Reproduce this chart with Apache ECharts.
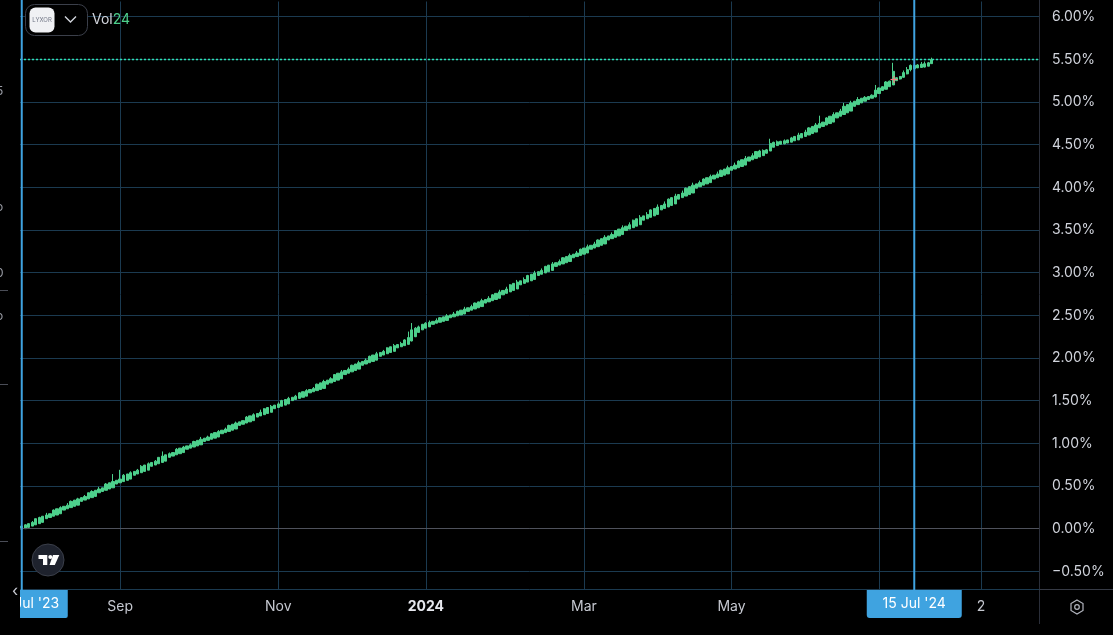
<!DOCTYPE html>
<html><head><meta charset="utf-8">
<script src="https://cdn.jsdelivr.net/npm/echarts@6/dist/echarts.min.js"></script>
<style>html,body{margin:0;padding:0;background:#000;overflow:hidden}#c{width:1113px;height:635px}</style>
</head><body><div id="c"></div>
<script>
// ---------- data ----------
const startDate = [2023, 6, 25];          // first bar: 25 Jul 2023 (weekday bars)
const barSlots = 290;                      // bar slots on the time scale, incl. empty future
const xTickIdx = [28, 73, 115, 160, 202, 244, 273];
const xTickLabels = ['Sep', 'Nov', '2024', 'Mar', 'May', 'Jul', '2'];
const crosshairIdx = 254;
const crosshairLabel = "15 Jul '24";
const firstLabel = "Jul '23";
const yMin = -0.707, yMax = 6.196;
// [open, close, low, high] in thousandths of a percent
const ohlc = [
[-5,30,-10,40],[0,45,0,52],[15,59,15,59],[30,74,30,90],[45,117,45,117],[59,131,59,140],[74,146,74,146],[117,160,117,185],[131,175,131,175],[146,218,146,225],
[160,233,160,233],[175,247,175,262],[218,262,218,262],[233,276,233,300],[247,320,247,330],[262,335,262,335],[276,349,276,362],[320,364,320,364],[335,378,335,395],[349,421,349,421],
[364,436,364,450],[378,450,378,450],[421,465,421,490],[436,479,436,479],[450,523,450,535],[465,538,465,538],[479,552,479,640],[523,567,523,567],[538,581,538,690],[552,626,552,640],
[567,641,567,641],[581,656,581,672],[626,671,626,671],[641,686,641,700],[656,731,656,745],[671,746,671,746],[686,761,686,776],[731,776,731,776],[746,791,746,805],[761,836,761,836],
[776,851,776,905],[791,866,791,866],[836,879,836,893],[851,892,851,892],[866,931,866,945],[879,944,879,944],[892,957,892,970],[931,970,931,970],[944,983,944,1000],[957,1022,957,1030],
[970,1035,970,1035],[983,1048,983,1075],[1022,1061,1022,1061],[1035,1074,1035,1090],[1048,1113,1048,1120],[1061,1126,1061,1126],[1074,1140,1074,1155],[1113,1154,1113,1154],[1126,1168,1126,1185],[1140,1210,1140,1218],
[1154,1224,1154,1224],[1168,1238,1168,1255],[1210,1252,1210,1252],[1224,1266,1224,1266],[1238,1308,1238,1320],[1252,1322,1252,1322],[1266,1336,1266,1352],[1308,1350,1308,1350],[1322,1364,1322,1395],[1336,1406,1336,1412],
[1350,1420,1350,1420],[1364,1434,1364,1450],[1406,1448,1406,1448],[1420,1462,1420,1480],[1434,1501,1434,1510],[1448,1514,1448,1514],[1462,1527,1462,1545],[1501,1540,1501,1540],[1514,1553,1514,1568],[1527,1592,1527,1600],
[1540,1605,1540,1605],[1553,1618,1553,1635],[1592,1631,1592,1631],[1605,1644,1605,1660],[1618,1693,1618,1700],[1631,1709,1631,1709],[1644,1725,1644,1745],[1693,1741,1693,1741],[1709,1757,1709,1775],[1725,1806,1725,1812],
[1741,1822,1741,1822],[1757,1838,1757,1860],[1806,1854,1806,1854],[1822,1870,1822,1890],[1838,1915,1838,1922],[1854,1930,1854,1930],[1870,1945,1870,1968],[1915,1960,1915,1960],[1930,1975,1930,1995],[1945,2020,1945,2028],
[1960,2035,1960,2035],[1975,2050,1975,2072],[2020,2065,2020,2065],[2035,2078,2035,2095],[2050,2119,2050,2125],[2065,2132,2065,2132],[2078,2145,2078,2165],[2119,2158,2119,2158],[2132,2171,2132,2190],[2145,2212,2145,2220],
[2160,2240,2155,2310],[2200,2330,2195,2410],[2250,2350,2245,2362],[2300,2365,2300,2380],[2330,2395,2330,2400],[2350,2408,2350,2420],[2365,2419,2365,2440],[2395,2430,2395,2430],[2408,2441,2408,2465],[2419,2472,2419,2478],
[2430,2483,2430,2483],[2441,2494,2441,2515],[2472,2505,2472,2505],[2483,2516,2483,2540],[2494,2547,2494,2555],[2505,2561,2505,2561],[2516,2575,2516,2600],[2547,2589,2547,2589],[2561,2603,2561,2625],[2575,2644,2575,2650],
[2589,2658,2589,2658],[2603,2672,2603,2695],[2644,2686,2644,2686],[2658,2700,2658,2725],[2672,2741,2672,2748],[2686,2758,2686,2758],[2700,2775,2700,2800],[2741,2792,2741,2792],[2758,2809,2758,2835],[2775,2858,2775,2865],
[2792,2875,2790,2875],[2809,2890,2809,2915],[2858,2905,2858,2905],[2875,2920,2875,2945],[2890,2967,2890,2975],[2905,2982,2905,2982],[2920,2997,2920,3022],[2967,3012,2967,3012],[2982,3027,2982,3050],[2997,3074,2997,3080],
[3012,3089,3012,3089],[3027,3103,3027,3125],[3074,3117,3074,3117],[3089,3131,3089,3155],[3103,3175,3103,3182],[3117,3189,3117,3189],[3131,3203,3131,3225],[3175,3217,3175,3217],[3189,3231,3189,3255],[3203,3275,3203,3282],
[3217,3289,3217,3289],[3231,3305,3231,3330],[3275,3321,3275,3321],[3289,3337,3289,3362],[3305,3383,3305,3390],[3321,3399,3321,3399],[3337,3415,3337,3440],[3383,3431,3383,3431],[3399,3447,3399,3472],[3415,3494,3415,3500],
[3431,3511,3431,3511],[3447,3528,3447,3555],[3494,3545,3490,3545],[3511,3562,3511,3590],[3528,3615,3528,3622],[3545,3632,3545,3632],[3562,3649,3562,3675],[3615,3666,3615,3666],[3632,3683,3632,3710],[3649,3736,3649,3742],
[3666,3753,3666,3753],[3683,3770,3683,3800],[3736,3788,3736,3788],[3753,3806,3753,3835],[3770,3862,3770,3870],[3788,3880,3788,3880],[3806,3898,3806,3925],[3862,3916,3862,3916],[3880,3934,3880,3962],[3898,3990,3898,3998],
[3916,4008,3916,4008],[3934,4026,3934,4055],[3990,4041,3990,4041],[4008,4056,4008,4080],[4026,4098,4026,4105],[4041,4113,4041,4113],[4056,4128,4056,4150],[4098,4143,4098,4143],[4113,4158,4113,4185],[4128,4200,4128,4208],
[4143,4215,4143,4215],[4158,4230,4158,4255],[4200,4245,4200,4245],[4215,4261,4215,4290],[4230,4308,4230,4315],[4245,4324,4245,4324],[4261,4340,4261,4368],[4308,4356,4308,4356],[4324,4372,4320,4400],[4340,4419,4340,4425],
[4356,4426,4356,4440],[4372,4433,4372,4445],[4400,4440,4395,4450],[4426,4515,4426,4570],[4470,4528,4470,4535],[4490,4534,4485,4550],[4505,4540,4505,4545],[4510,4546,4505,4562],[4520,4556,4520,4556],[4530,4580,4530,4592],
[4546,4597,4546,4597],[4556,4614,4556,4640],[4580,4631,4580,4631],[4597,4648,4597,4675],[4614,4697,4614,4705],[4631,4714,4631,4714],[4648,4731,4648,4755],[4697,4748,4697,4840],[4714,4765,4714,4765],[4731,4814,4731,4822],
[4748,4834,4748,4834],[4765,4854,4765,4880],[4814,4874,4814,4874],[4834,4894,4834,4920],[4854,4950,4854,4990],[4874,4970,4874,4970],[4894,4990,4894,5015],[4950,5010,4950,5010],[4970,5030,4970,5058],[4990,5045,4990,5045],
[5010,5055,5010,5070],[5030,5065,5025,5065],[5045,5080,5045,5090],[5060,5140,5055,5200],[5100,5165,5100,5170],[5135,5180,5135,5185],[5150,5235,5150,5245],[5180,5245,5180,5250],[5200,5360,5200,5460],[5250,5285,5250,5290],
[5270,5300,5265,5305],[5290,5345,5285,5370],[5330,5380,5325,5410],[5380,5430,5360,5440],[5390,5430,5385,5440],[5400,5435,5400,5445],[5405,5445,5405,5470],[5410,5450,5405,5475],[5420,5460,5420,5470],[5450,5500,5450,5520]
];

// ---------- build ----------
const categories = [];
(function(){
  let t = Date.UTC(startDate[0], startDate[1], startDate[2]);
  while (categories.length < barSlots) {
    const d = new Date(t); const wd = d.getUTCDay();
    if (wd !== 0 && wd !== 6) categories.push(d.toISOString().slice(0, 10));
    t += 86400000;
  }
})();
const candleData = ohlc.map(r => [r[0] / 1000, r[1] / 1000, r[2] / 1000, r[3] / 1000]);
const lastClose = candleData[candleData.length - 1][1];
const tickMap = {}; xTickIdx.forEach((i, k) => tickMap[i] = xTickLabels[k]);

const GREEN = '#4dd08c', GRID = '#1b3a50', BLUE = '#3fa3e0', TXT = '#d1d4dc';
const FONT = 'Inter, "Noto Sans", sans-serif';

const chart = echarts.init(document.getElementById('c'), null, {renderer: 'canvas'});
const option = {
  backgroundColor: '#000',
  animation: false,
  grid: {left: 20, right: 74, top: 0, bottom: 46, containLabel: false},
  xAxis: {
    type: 'category', data: categories, boundaryGap: true,
    axisLine: {show: true, lineStyle: {color: '#363a45', width: 1}},
    axisTick: {show: false},
    axisLabel: {
      interval: (i) => tickMap[i] !== undefined,
      formatter: (v, i) => tickMap[i] === '2024' ? '{b|2024}' : tickMap[i],
      color: '#c5c8d0', fontSize: 14, fontFamily: FONT, margin: 11,
      rich: {b: {fontWeight: 'bold', color: '#e6e8ee', fontSize: 14, fontFamily: FONT}}
    },
    splitLine: {show: true, interval: (i) => tickMap[i] !== undefined, alignWithLabel: true, lineStyle: {color: GRID, width: 1}}
  },
  yAxis: {
    type: 'value', position: 'right', min: yMin, max: yMax, splitNumber: 14, scale: true,
    axisLine: {show: true, lineStyle: {color: '#2a2e39'}},
    axisTick: {show: false},
    axisLabel: {
      color: TXT, fontSize: 14, fontFamily: FONT, margin: 13, align: 'left',
      showMinLabel: false, showMaxLabel: false,
      formatter: v => (v < 0 ? '\u2212' + Math.abs(v).toFixed(2) : v.toFixed(2)) + '%'
    },
    splitLine: {show: true, lineStyle: {color: GRID, width: 1}}
  },
  series: [{
    type: 'candlestick', data: candleData, barWidth: '80%',
    itemStyle: {color: GREEN, color0: GREEN, borderColor: GREEN, borderColor0: GREEN, borderWidth: 1},
    markLine: {
      silent: true, symbol: 'none', animation: false, label: {show: false},
      data: [
        {yAxis: 0, lineStyle: {color: '#4f525c', type: 'solid', width: 1}},
        {yAxis: lastClose, lineStyle: {color: '#2ee3b3', type: [2, 2], width: 1.3}}
      ]
    }
  }]
};
chart.setOption(option);

const x0 = chart.convertToPixel({xAxisIndex: 0}, categories[0]);
const xc = chart.convertToPixel({xAxisIndex: 0}, categories[crosshairIdx]);
const Z = 100;
const g = [];
// hide the grid-edge line at the very top
g.push({type: 'rect', z: Z - 1, shape: {x: 20, y: 0, width: 1019, height: 1.5}, style: {fill: '#000'}});
// vertical lines (start marker + crosshair)
g.push({type: 'line', z: Z, shape: {x1: x0, y1: 0, x2: x0, y2: 590}, style: {stroke: BLUE, lineWidth: 2}});
g.push({type: 'line', z: Z, shape: {x1: xc, y1: 0, x2: xc, y2: 590}, style: {stroke: BLUE, lineWidth: 2}});
// date boxes
g.push({type: 'rect', z: Z + 1, shape: {x: x0 - 16, y: 590, width: 62, height: 28, r: [0, 0, 2, 2]}, style: {fill: BLUE}});
g.push({type: 'text', z: Z + 2, style: {x: x0 + 15, y: 604, text: firstLabel, fill: '#fff', font: '14px ' + FONT, textAlign: 'center', textVerticalAlign: 'middle'}});
g.push({type: 'rect', z: Z + 1, shape: {x: xc - 47.5, y: 590, width: 95, height: 28, r: [0, 0, 3, 3]}, style: {fill: BLUE}});
g.push({type: 'text', z: Z + 2, style: {x: xc, y: 604, text: crosshairLabel, fill: '#fff', font: '14px ' + FONT, textAlign: 'center', textVerticalAlign: 'middle'}});
// left neighbour-pane strip
g.push({type: 'rect', z: Z + 5, shape: {x: 0, y: 0, width: 20, height: 635}, style: {fill: '#000'}});
[[290], [384], [541]].forEach(a => g.push({type: 'line', z: Z + 6, shape: {x1: 0, y1: a[0] + 0.5, x2: 8, y2: a[0] + 0.5}, style: {stroke: '#4a4d57', lineWidth: 1}}));
[['5', 91], ['/', 125], ['o', 207], ["'", 240], ['0', 273], ['o', 316], [',', 12]].forEach(a => g.push({type: 'text', z: Z + 6, style: {x: -4, y: a[1], text: a[0], fill: '#9a9da6', font: '12px ' + FONT, textVerticalAlign: 'middle'}}));
g.push({type: 'text', z: Z + 6, style: {x: 15, y: 591, text: '\u2039', fill: '#c9ccd4', font: '16px ' + FONT, textAlign: 'center', textVerticalAlign: 'middle'}});
// axis line extensions
g.push({type: 'line', z: Z, shape: {x1: 1039.5, y1: 589, x2: 1039.5, y2: 624}, style: {stroke: '#2a2e39', lineWidth: 1}});
g.push({type: 'line', z: Z, shape: {x1: 1039, y1: 589.5, x2: 1113, y2: 589.5}, style: {stroke: '#363a45', lineWidth: 1}});
// settings icon
g.push({type: 'polygon', z: Z, shape: {points: [[1077, 600], [1083, 603.5], [1083, 610.5], [1077, 614], [1071, 610.5], [1071, 603.5]]}, style: {fill: 'none', stroke: '#b2b5be', lineWidth: 1.2}});
g.push({type: 'circle', z: Z, shape: {cx: 1077, cy: 607, r: 2.3}, style: {fill: 'none', stroke: '#b2b5be', lineWidth: 1.2}});
// legend
g.push({type: 'rect', z: Z, shape: {x: 25.5, y: 4.5, width: 62, height: 31, r: 9}, style: {fill: '#000', stroke: '#3b3f4a', lineWidth: 1}});
g.push({type: 'rect', z: Z + 1, shape: {x: 29.5, y: 7.5, width: 25, height: 25, r: 6}, style: {fill: '#f0f1f4'}});
g.push({type: 'text', z: Z + 2, style: {x: 42, y: 20, text: 'LYXOR', fill: '#707585', font: '6px ' + FONT, textAlign: 'center', textVerticalAlign: 'middle'}});
g.push({type: 'polyline', z: Z + 1, shape: {points: [[65, 16.5], [70.5, 22], [76, 16.5]]}, style: {stroke: '#d1d4dc', lineWidth: 1.4, fill: 'none'}});
g.push({type: 'text', z: Z + 1, style: {x: 92, y: 20, text: '{a|Vol}{b|24}', rich: {a: {fill: '#d1d4dc', font: '14px ' + FONT}, b: {fill: '#4dd08c', font: '14px ' + FONT}}, textVerticalAlign: 'middle'}});
// TradingView badge
g.push({type: 'circle', z: Z, shape: {cx: 48, cy: 560, r: 16}, style: {fill: '#1e222d', stroke: '#3b3f4a', lineWidth: 1}});
g.push({type: 'polygon', z: Z + 1, shape: {points: [[38.5, 555], [47.3, 555], [47.3, 565], [43, 565], [43, 559], [38.5, 559]]}, style: {fill: '#fff'}});
g.push({type: 'circle', z: Z + 1, shape: {cx: 50.3, cy: 557, r: 2}, style: {fill: '#fff'}});
g.push({type: 'polygon', z: Z + 1, shape: {points: [[53, 555], [59.3, 555], [54.8, 565], [49.5, 565]]}, style: {fill: '#fff'}});
// cursor
g.push({type: 'line', z: Z, shape: {x1: 890.5, y1: 79.5, x2: 897.5, y2: 79.5}, style: {stroke: '#f77c80', lineWidth: 1.2}});
g.push({type: 'line', z: Z, shape: {x1: 894, y1: 76, x2: 894, y2: 83}, style: {stroke: '#f77c80', lineWidth: 1.2}});
chart.setOption({graphic: {elements: g}});
</script></body></html>
